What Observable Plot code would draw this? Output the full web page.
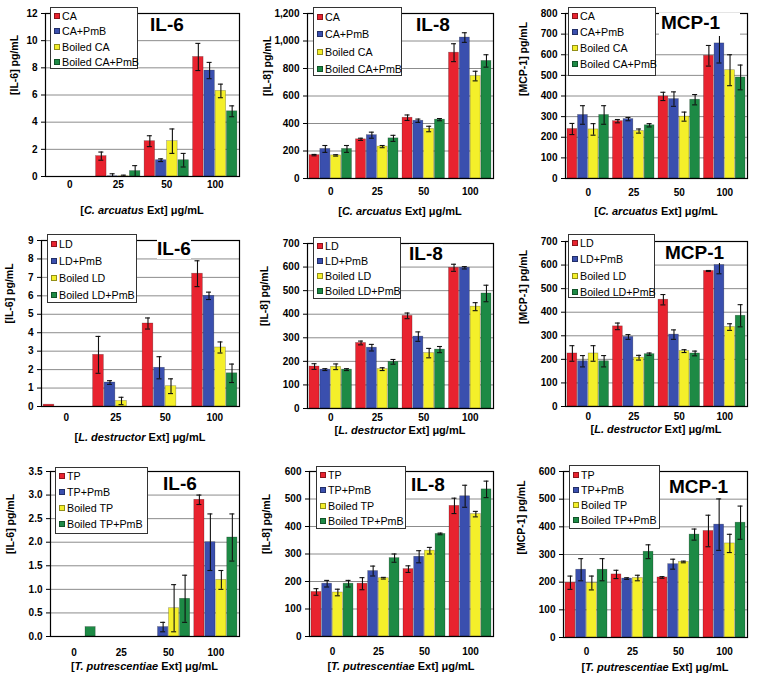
<!DOCTYPE html>
<html><head><meta charset="utf-8">
<script src="https://cdn.jsdelivr.net/npm/d3@7"></script>
<script src="https://cdn.jsdelivr.net/npm/@observablehq/plot@0.6"></script>
<style>
body{margin:0;background:#fff;font-family:"Liberation Sans",Arial,sans-serif;}
#root{position:relative;width:762px;height:679px;overflow:hidden;background:#fff;}
.panel{position:absolute;width:254px;}
.panel svg{display:block;}
.legend{position:absolute;background:#fff;border:1px solid #333;box-sizing:border-box;font-size:10.7px;color:#000;}
.legend .row{display:flex;align-items:center;white-space:nowrap;}
.sw{width:6px;height:6px;margin:0 2px 0 3px;flex:none;box-sizing:border-box;border:0.5px solid rgba(0,0,0,0.4);}
.title{position:absolute;font-weight:bold;font-size:19px;line-height:20px;background:#fff;white-space:nowrap;}
.xtitle{position:absolute;font-weight:bold;font-size:11px;line-height:12px;white-space:nowrap;transform:translate(-50%,-50%);}
</style></head><body><div id="root"></div>
<script>
// ---------- data ----------
const doses = ["0", "25", "50", "100"];
const seriesCA = ["CA", "CA+PmB", "Boiled CA", "Boiled CA+PmB"];
const seriesLD = ["LD", "LD+PmB", "Boiled LD", "Boiled LD+PmB"];
const seriesTP = ["TP", "TP+PmB", "Boiled TP", "Boiled TP+PmB"];
const cytokines = ["IL-6", "IL-8", "MCP-1"];
const yLabels = ["[IL-6] pg/mL", "[IL-8] pg/mL", "[MCP-1] pg/mL"];
const species = ["C. arcuatus", "L. destructor", "T. putrescentiae"];

// rows = series (4), columns = doses (0,25,50,100)
const ca_il6 = [[0, 1.5, 2.6, 8.8], [0, 0.02, 1.2, 7.8], [0, 0.02, 2.6, 6.3], [0, 0.4, 1.2, 4.8]];
const ca_il6_err = [[0, 0.3, 0.4, 1.0], [0, 0.18, 0.1, 0.6], [0, 0.08, 0.9, 0.5], [0, 0.4, 0.5, 0.4]];
const ca_il8 = [[170, 285, 442, 915], [215, 315, 420, 1025], [168, 232, 360, 745], [215, 292, 428, 855]];
const ca_il8_err = [[5, 8, 20, 65], [25, 22, 12, 35], [5, 8, 20, 35], [25, 22, 8, 45]];
const ca_mcp1 = [[240, 278, 398, 595], [308, 288, 385, 655], [238, 230, 300, 525], [308, 258, 382, 490]];
const ca_mcp1_err = [[27, 8, 20, 50], [45, 8, 35, 95], [28, 10, 22, 75], [45, 8, 25, 60]];

const ld_il6 = [[0.1, 2.8, 4.5, 7.2], [0, 1.3, 2.1, 6.0], [0, 0.3, 1.1, 3.2], [0, 0, 0, 1.8]];
const ld_il6_err = [[0, 1.0, 0.3, 0.7], [0, 0.1, 0.6, 0.2], [0, 0.2, 0.4, 0.3], [0, 0, 0, 0.5]];
const ld_il8 = [[178, 278, 393, 597], [165, 258, 305, 597], [177, 167, 235, 432], [165, 198, 250, 488]];
const ld_il8_err = [[12, 8, 12, 15], [4, 14, 20, 5], [12, 6, 20, 17], [4, 10, 13, 35]];
const ld_mcp1 = [[225, 340, 453, 575], [192, 295, 305, 600], [225, 207, 235, 337], [192, 222, 225, 385]];
const ld_mcp1_err = [[33, 14, 22, 2], [24, 10, 20, 37], [33, 10, 6, 14], [24, 5, 10, 47]];

const tp_il6 = [[0, 0, 0, 2.9], [0, 0, 0.2, 2.0], [0, 0, 0.6, 1.2], [0.2, 0, 0.8, 2.1]];
const tp_il6_err = [[0, 0, 0, 0.1], [0, 0, 0.1, 0.6], [0, 0, 0.5, 0.2], [0, 0, 0.5, 0.5]];
const tp_il8 = [[162, 192, 245, 475], [192, 238, 290, 510], [160, 212, 312, 445], [192, 285, 373, 535]];
const tp_il8_err = [[12, 22, 12, 28], [12, 18, 22, 40], [12, 3, 12, 10], [12, 15, 3, 30]];
const tp_mcp1 = [[198, 228, 217, 385], [245, 213, 265, 408], [197, 215, 273, 340], [245, 310, 372, 415]];
const tp_mcp1_err = [[24, 15, 3, 57], [40, 3, 18, 93], [25, 10, 3, 33], [40, 25, 20, 60]];

// tick labels
const ticks_il6_ca = [0, 2, 4, 6, 8, 10, 12];
const ticks_il8_ca = [0, 200, 400, 600, 800, 1000, 1200];
const ticks_mcp1_ca = [0, 100, 200, 300, 400, 500, 600, 700, 800];
const ticks_il6_ld = [0, 1, 2, 3, 4, 5, 6, 7, 8, 9];
const ticks_700 = [0, 100, 200, 300, 400, 500, 600, 700];
const ticks_il6_tp = [0, 0.5, 1.0, 1.5, 2.0, 2.5, 3.0, 3.5];
const ticks_600 = [0, 100, 200, 300, 400, 500, 600];

const panels = [
  {series: seriesCA, sp: 0, cy: 0, values: ca_il6, errors: ca_il6_err, ticks: ticks_il6_ca, fmt: d3.format("d")},
  {series: seriesCA, sp: 0, cy: 1, values: ca_il8, errors: ca_il8_err, ticks: ticks_il8_ca, fmt: d3.format(",")},
  {series: seriesCA, sp: 0, cy: 2, values: ca_mcp1, errors: ca_mcp1_err, ticks: ticks_mcp1_ca, fmt: d3.format("d")},
  {series: seriesLD, sp: 1, cy: 0, values: ld_il6, errors: ld_il6_err, ticks: ticks_il6_ld, fmt: d3.format("d")},
  {series: seriesLD, sp: 1, cy: 1, values: ld_il8, errors: ld_il8_err, ticks: ticks_700, fmt: d3.format("d")},
  {series: seriesLD, sp: 1, cy: 2, values: ld_mcp1, errors: ld_mcp1_err, ticks: ticks_700, fmt: d3.format("d")},
  {series: seriesTP, sp: 2, cy: 0, values: tp_il6, errors: tp_il6_err, ticks: ticks_il6_tp, fmt: d3.format(".1f")},
  {series: seriesTP, sp: 2, cy: 1, values: tp_il8, errors: tp_il8_err, ticks: ticks_600, fmt: d3.format("d")},
  {series: seriesTP, sp: 2, cy: 2, values: tp_mcp1, errors: tp_mcp1_err, ticks: ticks_600, fmt: d3.format("d")}
];

// ---------- layout / style ----------
const colors = ["#e8232f", "#3a4fae", "#f4ef2a", "#1d8a45"];
const mLeft = [45, 53, 57, 41, 53, 57, 50, 55, 55];
const mTop = [13, 13, 13, 14, 17, 15, 19, 19, 19];
const frameBottom = [176, 178, 178, 180, 182, 180, 184, 184, 185];
const xLabelGap = [4, 9, 10, 7, 5, 6, 12, 11, 10];
const yTitleX = [14, 13, 15, 9, 10, 15, 10, 12, 13];
const xTitleY = [210, 211, 211, 211, 204, 203, 214, 214, 215];
const legBox = [[50, 7, 88, 62], [59, 7, 89, 69], [60, 7, 88, 69], [47, 8, 90, 69], [59, 11, 88, 62], [60, 8, 87, 64], [55, 15, 93, 67], [62, 14, 90, 63], [61, 13, 91, 64]];
const legLine = [15.5, 17.5, 16, 17, 15, 16.3, 16, 15.3, 15];
const legFirst = [8, 8, 8, 8, 9, 8, 9, 9, 10];
const titlePos = [[150, 25], [162, 25], [153, 23], [157, 23], [155, 28], [157, 27], [163, 32], [157, 33], [161, 35]];
const frameRight = 239;

const root = document.getElementById("root");

panels.forEach((p, k) => {
  const col = k % 3, row = Math.floor(k / 3);
  const W = 254, H = row === 2 ? 227 : 226;
  const ml = mLeft[k], mt = mTop[k], mr = W - frameRight, mb = H - frameBottom[k];
  const plotW = W - ml - mr;
  const pi = 0.07, po = 0.035;
  const step = plotW / (doses.length - pi + 2 * po);
  const bw = step * (1 - pi);
  const q = bw / 4;

  const rows = [];
  p.series.forEach((s, i) => doses.forEach((d, j) => rows.push({series: s, si: i, dose: d, value: p.values[i][j], err: p.errors[i][j]})));

  const marks = [Plot.gridY({ticks: p.ticks, stroke: "#8c8c8c", strokeOpacity: 1, strokeWidth: 1})];
  for (let i = 0; i < 4; i++) {
    const r = rows.filter(d => d.si === i && d.value > 0);
    marks.push(Plot.barY(r, {x: "dose", y: "value", fill: colors[i], stroke: "#000", strokeOpacity: 0.35, strokeWidth: 0.6,
      insetLeft: i * q + 0.4, insetRight: (3 - i) * q + 0.4}));
  }
  for (let i = 0; i < 4; i++) {
    const e = rows.filter(d => d.si === i && d.err > 0);
    const cx = (i + 0.5) * q;
    const capStyle = {x: "dose", insetLeft: cx - 2.5, insetRight: bw - cx - 2.5, stroke: "#111", strokeWidth: 1.1};
    marks.push(Plot.ruleX(e, {x: "dose", y1: d => Math.max(0, d.value - d.err), y2: d => d.value + d.err, dx: cx - bw / 2, stroke: "#111", strokeWidth: 1.1}));
    marks.push(Plot.tickY(e, {...capStyle, y: d => d.value + d.err}));
    marks.push(Plot.tickY(e.filter(d => d.value - d.err > 0), {...capStyle, y: d => d.value - d.err}));
  }
  marks.push(Plot.frame({stroke: "#000", strokeWidth: 1.2}));
  marks.push(Plot.axisY({ticks: p.ticks, tickSize: 4, tickPadding: 4, tickFormat: p.fmt, label: null, fontWeight: "bold"}));
  marks.push(Plot.axisX({tickSize: 0, tickPadding: xLabelGap[k], label: null, fontWeight: "bold"}));
  marks.push(Plot.text([yLabels[p.cy]], {text: d => d, frameAnchor: "left", rotate: -90, dx: yTitleX[k] - ml, fontWeight: "bold", fontSize: 10.5}));

  const chart = Plot.plot({
    width: W, height: H,
    marginLeft: ml, marginRight: mr, marginTop: mt, marginBottom: mb,
    x: {domain: doses, type: "band", paddingInner: pi, paddingOuter: po, round: false},
    y: {domain: [0, p.ticks[p.ticks.length - 1]]},
    style: {fontFamily: "'Liberation Sans', Arial, sans-serif", fontSize: "10px", fontWeight: "bold", color: "#000", background: "#fff", overflow: "visible"},
    marks
  });

  const div = document.createElement("div");
  div.className = "panel";
  div.style.left = (col * 254) + "px";
  div.style.top = (row * 226) + "px";
  div.style.height = H + "px";
  div.appendChild(chart);

  // legend
  const [lx, ly, lw, lh] = legBox[k];
  const leg = document.createElement("div");
  leg.className = "legend";
  leg.style.left = lx + "px"; leg.style.top = ly + "px";
  leg.style.width = lw + "px"; leg.style.height = lh + "px";
  leg.style.paddingTop = (legFirst[k] - legLine[k] / 2 - 1) + "px";
  p.series.forEach((s, i) => {
    const r = document.createElement("div");
    r.className = "row";
    r.style.height = legLine[k] + "px";
    const sw = document.createElement("span");
    sw.className = "sw"; sw.style.background = colors[i];
    const t = document.createElement("span");
    t.textContent = s;
    r.appendChild(sw); r.appendChild(t);
    leg.appendChild(r);
  });
  div.appendChild(leg);

  // title
  const tt = document.createElement("div");
  tt.className = "title";
  tt.textContent = cytokines[p.cy];
  tt.style.left = titlePos[k][0] + "px";
  tt.style.top = (titlePos[k][1] - 10) + "px";
  if (k === 2) { tt.style.paddingRight = "20px"; tt.style.paddingBottom = "3px"; tt.style.paddingLeft = "2px"; tt.style.left = (titlePos[k][0] - 2) + "px"; }
  div.appendChild(tt);

  // x-axis title
  const xt = document.createElement("div");
  xt.className = "xtitle";
  xt.innerHTML = "[<i>" + species[p.sp] + "</i> Ext] \u03bcg/mL";
  xt.style.left = ((ml + frameRight) / 2) + "px";
  xt.style.top = xTitleY[k] + "px";
  div.appendChild(xt);

  root.appendChild(div);
});
</script></body></html>
